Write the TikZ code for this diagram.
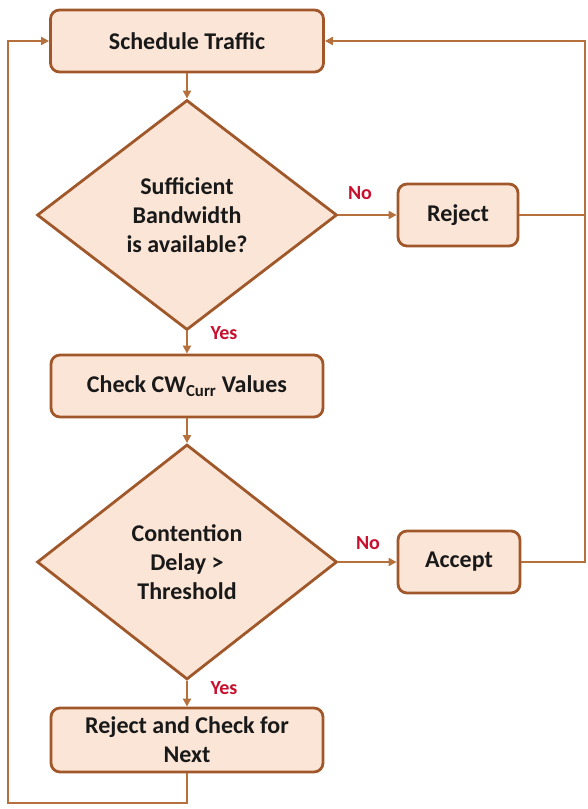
\documentclass[tikz,border=0pt]{standalone}
\usepackage{fontspec}
\setmainfont{Carlito}
\usetikzlibrary{shapes.geometric,arrows.meta}

\definecolor{boxfill}{HTML}{FBE5D6}
\definecolor{boxdraw}{HTML}{A0582A}
\definecolor{flowline}{HTML}{B5703D}
\definecolor{labelred}{HTML}{C8102E}

\tikzset{
  stepbox/.style={draw=boxdraw, fill=boxfill, line width=2.8pt, rounded corners=9pt,
    font=\bfseries\fontsize{24}{29}\selectfont, text=black!90, align=center,
    inner sep=0pt, minimum height=62pt},
  decision/.style={diamond, draw=boxdraw, fill=boxfill, line width=2.8pt, aspect=1.3,
    inner sep=0pt, font=\bfseries\fontsize{24}{29}\selectfont, text=black!90, align=center},
  flow/.style={draw=flowline, line width=2.8pt, -{Triangle[length=8pt,width=8pt]}},
  answer/.style={text=labelred, font=\bfseries\fontsize{20}{24}\selectfont}
}

\begin{document}
\begin{tikzpicture}[x=1pt, y=-1pt]
    \useasboundingbox (0,0) rectangle (588,809);

    \node[stepbox, minimum width=273pt] (sched) at (187,41) {Schedule Traffic};
    \node[decision, minimum width=300pt, minimum height=230pt] (bw) at (187,215) {Sufficient\\Bandwidth\\is available?};
    \node[stepbox, minimum width=120pt] (rej) at (458,215) {Reject};
    \node[stepbox, minimum width=272pt] (chk) at (187,386) {Check CW\textsubscript{Curr} Values};
    \node[decision, minimum width=300pt, minimum height=235pt] (cd) at (187,562) {Contention\\Delay >\\Threshold};
    \node[stepbox, minimum width=122pt] (acc) at (459,562) {Accept};
    \node[stepbox, minimum width=272pt, minimum height=64pt] (rcn) at (187,740) {Reject and Check for\\Next};

    \node[answer] (no1) at (360,193) {No};
    \node[answer] (yes1) at (224,333) {Yes};
    \node[answer] (no2) at (368,543) {No};
    \node[answer] (yes2) at (224,688) {Yes};

    \coordinate (rgt) at (585,41);
    \coordinate (lft) at (8,41);
    \coordinate (bot) at (187,803);

    \draw[flow] (sched.south) -- (bw.north);
    \draw[flow] (bw.east) -- (rej.west);
    \draw[flow] (bw.south) -- (chk.north);
    \draw[flow] (chk.south) -- (cd.north);
    \draw[flow] (cd.east) -- (acc.west);
    \draw[flow] (cd.south) -- (rcn.north);

    % loops back to the top
    \draw[flow] (acc.east) -| (rgt) -- (sched.east);
    \draw[flow, -] (rej.east) -- (rej.east -| rgt);
    \draw[flow] (rcn.south) -- (bot) -| (lft) -- (sched.west);
\end{tikzpicture}
\end{document}
